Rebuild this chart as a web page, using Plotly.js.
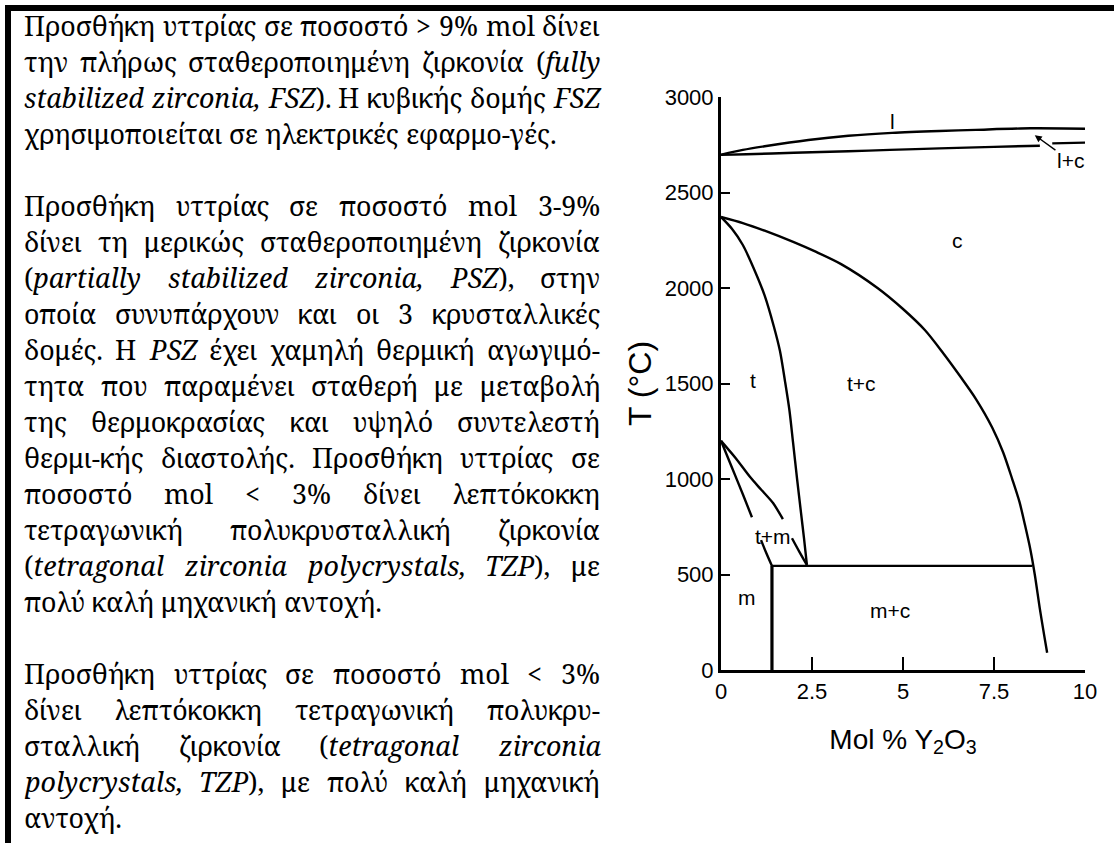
<!DOCTYPE html>
<html><head><meta charset="utf-8">
<script src="https://cdn.plot.ly/plotly-3.0.1.min.js"></script>
<style>html,body{margin:0;padding:0;background:#fff;overflow:hidden}#chart{width:1114px;height:843px}</style>
</head><body><div id="chart"></div>
<script>
// ---------- DATA ----------
const xTickVals = [0, 2.5, 5, 7.5, 10];
const xTickText = ['0', '2.5', '5', '7.5', '10'];
const yTickVals = [0, 500, 1000, 1500, 2000, 2500, 3000];
const yTickText = ['0', '500', '1000', '1500', '2000', '2500', '3000'];

const liquidusX = [0, 0.6, 1.2, 2.4, 3.5, 4.7, 6, 7, 8.5, 10];
const liquidusY = [2698, 2723, 2742, 2775, 2797, 2812, 2822, 2828, 2836, 2834];
const solidusAX = [0, 0.7, 2, 3.5, 4.64, 6, 7.5, 8.76];
const solidusAY = [2697, 2700, 2708, 2716, 2723, 2731, 2739, 2745];
const solidusBX = [9.1, 10];
const solidusBY = [2757, 2761];
const cubicX = [0, 0.6, 1.2, 2, 2.6, 3.3, 4.3, 5, 5.6, 6.1, 6.6, 7.0, 7.45, 7.75, 8.0, 8.2, 8.35, 8.5, 8.62, 8.76, 8.88, 8.96];
const cubicY = [2372, 2340, 2300, 2240, 2190, 2125, 2000, 1890, 1780, 1660, 1530, 1420, 1270, 1140, 1000, 880, 760, 630, 500, 320, 180, 90];
const tetraX = [0, 0.3, 0.6, 0.95, 1.2, 1.45, 1.62, 1.76, 1.88, 1.98, 2.09, 2.2, 2.28, 2.36];
const tetraY = [2372, 2310, 2225, 2080, 1960, 1800, 1670, 1510, 1360, 1190, 1000, 820, 690, 550];
const tmUpperAX = [0, 0.4, 0.8, 1.1, 1.43, 1.7];
const tmUpperAY = [1200, 1110, 1010, 945, 874, 790];
const tmUpperBX = [1.95, 2.15, 2.36];
const tmUpperBY = [690, 620, 550];
const tmLowerAX = [0, 0.3, 0.6, 0.85];
const tmLowerAY = [1200, 1060, 920, 800];
const tmLowerBX = [1.1, 1.25, 1.4];
const tmLowerBY = [680, 610, 545];
const eutectoidX = [1.4, 8.55];
const eutectoidY = [545, 545];
const monoX = [1.4, 1.4];
const monoY = [0, 545];

const phaseLabels = ['l', 'c', 't', 't+c', 't+m', 'm', 'm+c'];
const phaseLabelX = [4.7, 6.5, 0.88, 3.85, 1.43, 0.71, 4.64];
const phaseLabelY = [2870, 2250, 1518, 1500, 700, 380, 314];
const lcLabel = 'l+c';
const lcLabelPos = [9.6, 2665];
const lcArrowHead = [8.62, 2800];

const paragraph1 = [
  'Προσθήκη υττρίας σε ποσοστό > 9% mol δίνει',
  'την πλήρως σταθεροποιημένη ζιρκονία (<i>fully</i>',
  '<i>stabilized zirconia, FSZ</i>). Η κυβικής δομής <i>FSZ</i>',
  'χρησιμοποιείται σε ηλεκτρικές εφαρμο-γές.'
];
const paragraph2 = [
  'Προσθήκη υττρίας σε ποσοστό mol 3-9%',
  'δίνει τη μερικώς σταθεροποιημένη ζιρκονία',
  '(<i>partially stabilized zirconia, PSZ</i>), στην',
  'οποία συνυπάρχουν και οι 3 κρυσταλλικές',
  'δομές. Η <i>PSZ</i> έχει χαμηλή θερμική αγωγιμό-',
  'τητα που παραμένει σταθερή με μεταβολή',
  'της θερμοκρασίας και υψηλό συντελεστή',
  'θερμι-κής διαστολής. Προσθήκη υττρίας σε',
  'ποσοστό mol < 3% δίνει λεπτόκοκκη',
  'τετραγωνική πολυκρυσταλλική ζιρκονία',
  '(<i>tetragonal zirconia polycrystals, TZP</i>), με',
  'πολύ καλή μηχανική αντοχή.'
];
const paragraph3 = [
  'Προσθήκη υττρίας σε ποσοστό mol < 3%',
  'δίνει λεπτόκοκκη τετραγωνική πολυκρυ-',
  'σταλλική ζιρκονία (<i>tetragonal zirconia</i>',
  '<i>polycrystals, TZP</i>), με πολύ καλή μηχανική',
  'αντοχή.'
];

// ---------- LAYOUT GEOMETRY ----------
const W = 1114, H = 843;
const M = {l: 721, r: 29, t: 97, b: 173};
const PW = W - M.l - M.r, PH = H - M.t - M.b;
const px2x = px => (px - M.l) / PW;
const px2y = py => (H - M.b - py) / PH;

const COL_L = 24, COL_R = 600;
const FIRST_BASE = 35, LINE_H = 36;

// ---------- SVG text measurement (same engine Plotly draws with) ----------
const svgNS = 'http://www.w3.org/2000/svg';
const msvg = document.createElementNS(svgNS, 'svg');
msvg.setAttribute('width', '10'); msvg.setAttribute('height', '10');
msvg.style.position = 'absolute'; msvg.style.left = '0'; msvg.style.top = '0';
msvg.style.visibility = 'hidden';
document.body.appendChild(msvg);
const mt = document.createElementNS(svgNS, 'text');
msvg.appendChild(mt);
function svgWidth(str, family, size, italic) {
  mt.style.fontFamily = family; mt.style.fontSize = size + 'px';
  mt.style.fontStyle = italic ? 'italic' : 'normal';
  mt.textContent = str;
  return mt.getComputedTextLength();
}
// a family counts as installed only if it does not draw like an unknown name does
function pickFont(cands) {
  const s = 'Προσθήκη υττρίας abcdefghijklmnopqrstuvwxyz 0123456789';
  const ghost = svgWidth(s, '"QqNoSuchFontZz"', 40, false);
  for (const c of cands) {
    if (Math.abs(svgWidth(s, '"' + c + '"', 40, false) - ghost) > 0.5) return c;
  }
  return cands[cands.length - 1];
}
const SERIF = pickFont(['Liberation Serif', 'Times New Roman', 'Tinos', 'Noto Serif', 'FreeSerif', 'Nimbus Roman', 'DejaVu Serif']);
const SANS = 'Liberation Sans, Arial, Helvetica, sans-serif';

// font size chosen so the first (naturally spaced) line fills the column as in the reference
const FS = Math.min(29, 29 * 572 / svgWidth(paragraph1[0], SERIF, 29, false));

function parseLine(str) {
  const segs = []; let italic = false, last = 0, m;
  const re = /<\/?i>/g;
  while ((m = re.exec(str))) {
    if (m.index > last) segs.push({t: str.slice(last, m.index), it: italic});
    italic = m[0] === '<i>'; last = re.lastIndex;
  }
  if (last < str.length) segs.push({t: str.slice(last), it: italic});
  const words = [[]];
  segs.forEach(s => {
    s.t.split(' ').forEach((p, i) => {
      if (i > 0) words.push([]);
      if (p) words[words.length - 1].push({t: p, it: s.it});
    });
  });
  return words.filter(w => w.length);
}
const esc = t => t.replace(/&/g, '&amp;').replace(/</g, '&lt;').replace(/>/g, '&gt;');

const annotations = [];
let slot = 0;
[paragraph1, paragraph2, paragraph3].forEach(para => {
  para.forEach((line, li) => {
    const words = parseLine(line);
    const widths = words.map(w => w.reduce((a, s) => a + svgWidth(s.t, SERIF, FS, s.it), 0));
    const total = widths.reduce((a, b) => a + b, 0);
    const isLast = li === para.length - 1;
    const gap = (!isLast && words.length > 1) ? (COL_R - COL_L - total) / (words.length - 1)
      : svgWidth('a a', SERIF, FS, false) - svgWidth('aa', SERIF, FS, false);
    const base = FIRST_BASE + slot * LINE_H;
    let x = COL_L;
    words.forEach((w, wi) => {
      const txt = w.map(s => s.it ? '<i>' + esc(s.t) + '</i>' : esc(s.t)).join('');
      annotations.push({
        xref: 'paper', yref: 'paper', x: px2x(x), y: px2y(base - 0.34 * FS),
        xanchor: 'left', yanchor: 'middle', showarrow: false, borderpad: 0, borderwidth: 0,
        text: txt, font: {family: SERIF, size: FS, color: '#000'}
      });
      x += widths[wi] + gap;
    });
    slot++;
  });
  slot++;
});
msvg.remove();

phaseLabels.forEach((t, i) => {
  annotations.push({x: phaseLabelX[i], y: phaseLabelY[i], xref: 'x', yref: 'y', text: t, showarrow: false,
    font: {family: SANS, size: 21, color: '#000'}});
});
annotations.push({x: lcArrowHead[0], y: lcArrowHead[1], ax: lcLabelPos[0], ay: lcLabelPos[1],
  xref: 'x', yref: 'y', axref: 'x', ayref: 'y', text: lcLabel, showarrow: true,
  arrowhead: 2, arrowsize: 1, arrowwidth: 1.4, arrowcolor: '#000', standoff: 0,
  font: {family: SANS, size: 21, color: '#000'}});

const lineStyle = w => ({color: '#000', width: w, shape: 'spline', smoothing: 0.8});
function tr(x, y, w) {
  return {x: x, y: y, type: 'scatter', mode: 'lines', line: lineStyle(w || 2.4), hoverinfo: 'skip', showlegend: false};
}
const data = [
  tr(liquidusX, liquidusY), tr(solidusAX, solidusAY), tr(solidusBX, solidusBY),
  tr(cubicX, cubicY), tr(tetraX, tetraY),
  tr(tmUpperAX, tmUpperAY), tr(tmUpperBX, tmUpperBY),
  tr(tmLowerAX, tmLowerAY), tr(tmLowerBX, tmLowerBY),
  tr(eutectoidX, eutectoidY), tr(monoX, monoY, 3.2)
];

const shapes = [
  {type: 'rect', xref: 'paper', yref: 'paper', x0: px2x(5), x1: px2x(W), y0: px2y(11), y1: px2y(5),
   fillcolor: '#000', line: {width: 0}},
  {type: 'rect', xref: 'paper', yref: 'paper', x0: px2x(5), x1: px2x(11), y0: px2y(H), y1: px2y(5),
   fillcolor: '#000', line: {width: 0}}
];

const layout = {
  width: W, height: H, margin: {l: M.l, r: M.r, t: M.t, b: M.b, pad: 0},
  paper_bgcolor: '#fff', plot_bgcolor: '#fff', showlegend: false,
  font: {family: SANS, color: '#000'},
  xaxis: {range: [0, 10], tickvals: xTickVals, ticktext: xTickText, ticks: 'inside', ticklen: 13, tickwidth: 2,
    tickcolor: '#000', showline: true, linewidth: 3, linecolor: '#000', showgrid: false, zeroline: false,
    tickfont: {family: SANS, size: 22, color: '#000'}, automargin: false,
    title: {text: 'Mol % Y<sub>2</sub>O<sub>3</sub>', font: {family: SANS, size: 28, color: '#000'}, standoff: 26}},
  yaxis: {range: [0, 3000], tickvals: yTickVals, ticktext: yTickText, ticks: 'inside', ticklen: 9, tickwidth: 2,
    tickcolor: '#000', showline: true, linewidth: 3, linecolor: '#000', showgrid: false, zeroline: false,
    tickfont: {family: SANS, size: 22, color: '#000'}, automargin: false,
    title: {text: 'T (°C)', font: {family: SANS, size: 32, color: '#000'}, standoff: 4}},
  annotations: annotations, shapes: shapes
};

Plotly.newPlot('chart', data, layout, {staticPlot: true, displayModeBar: false});
</script></body></html>
